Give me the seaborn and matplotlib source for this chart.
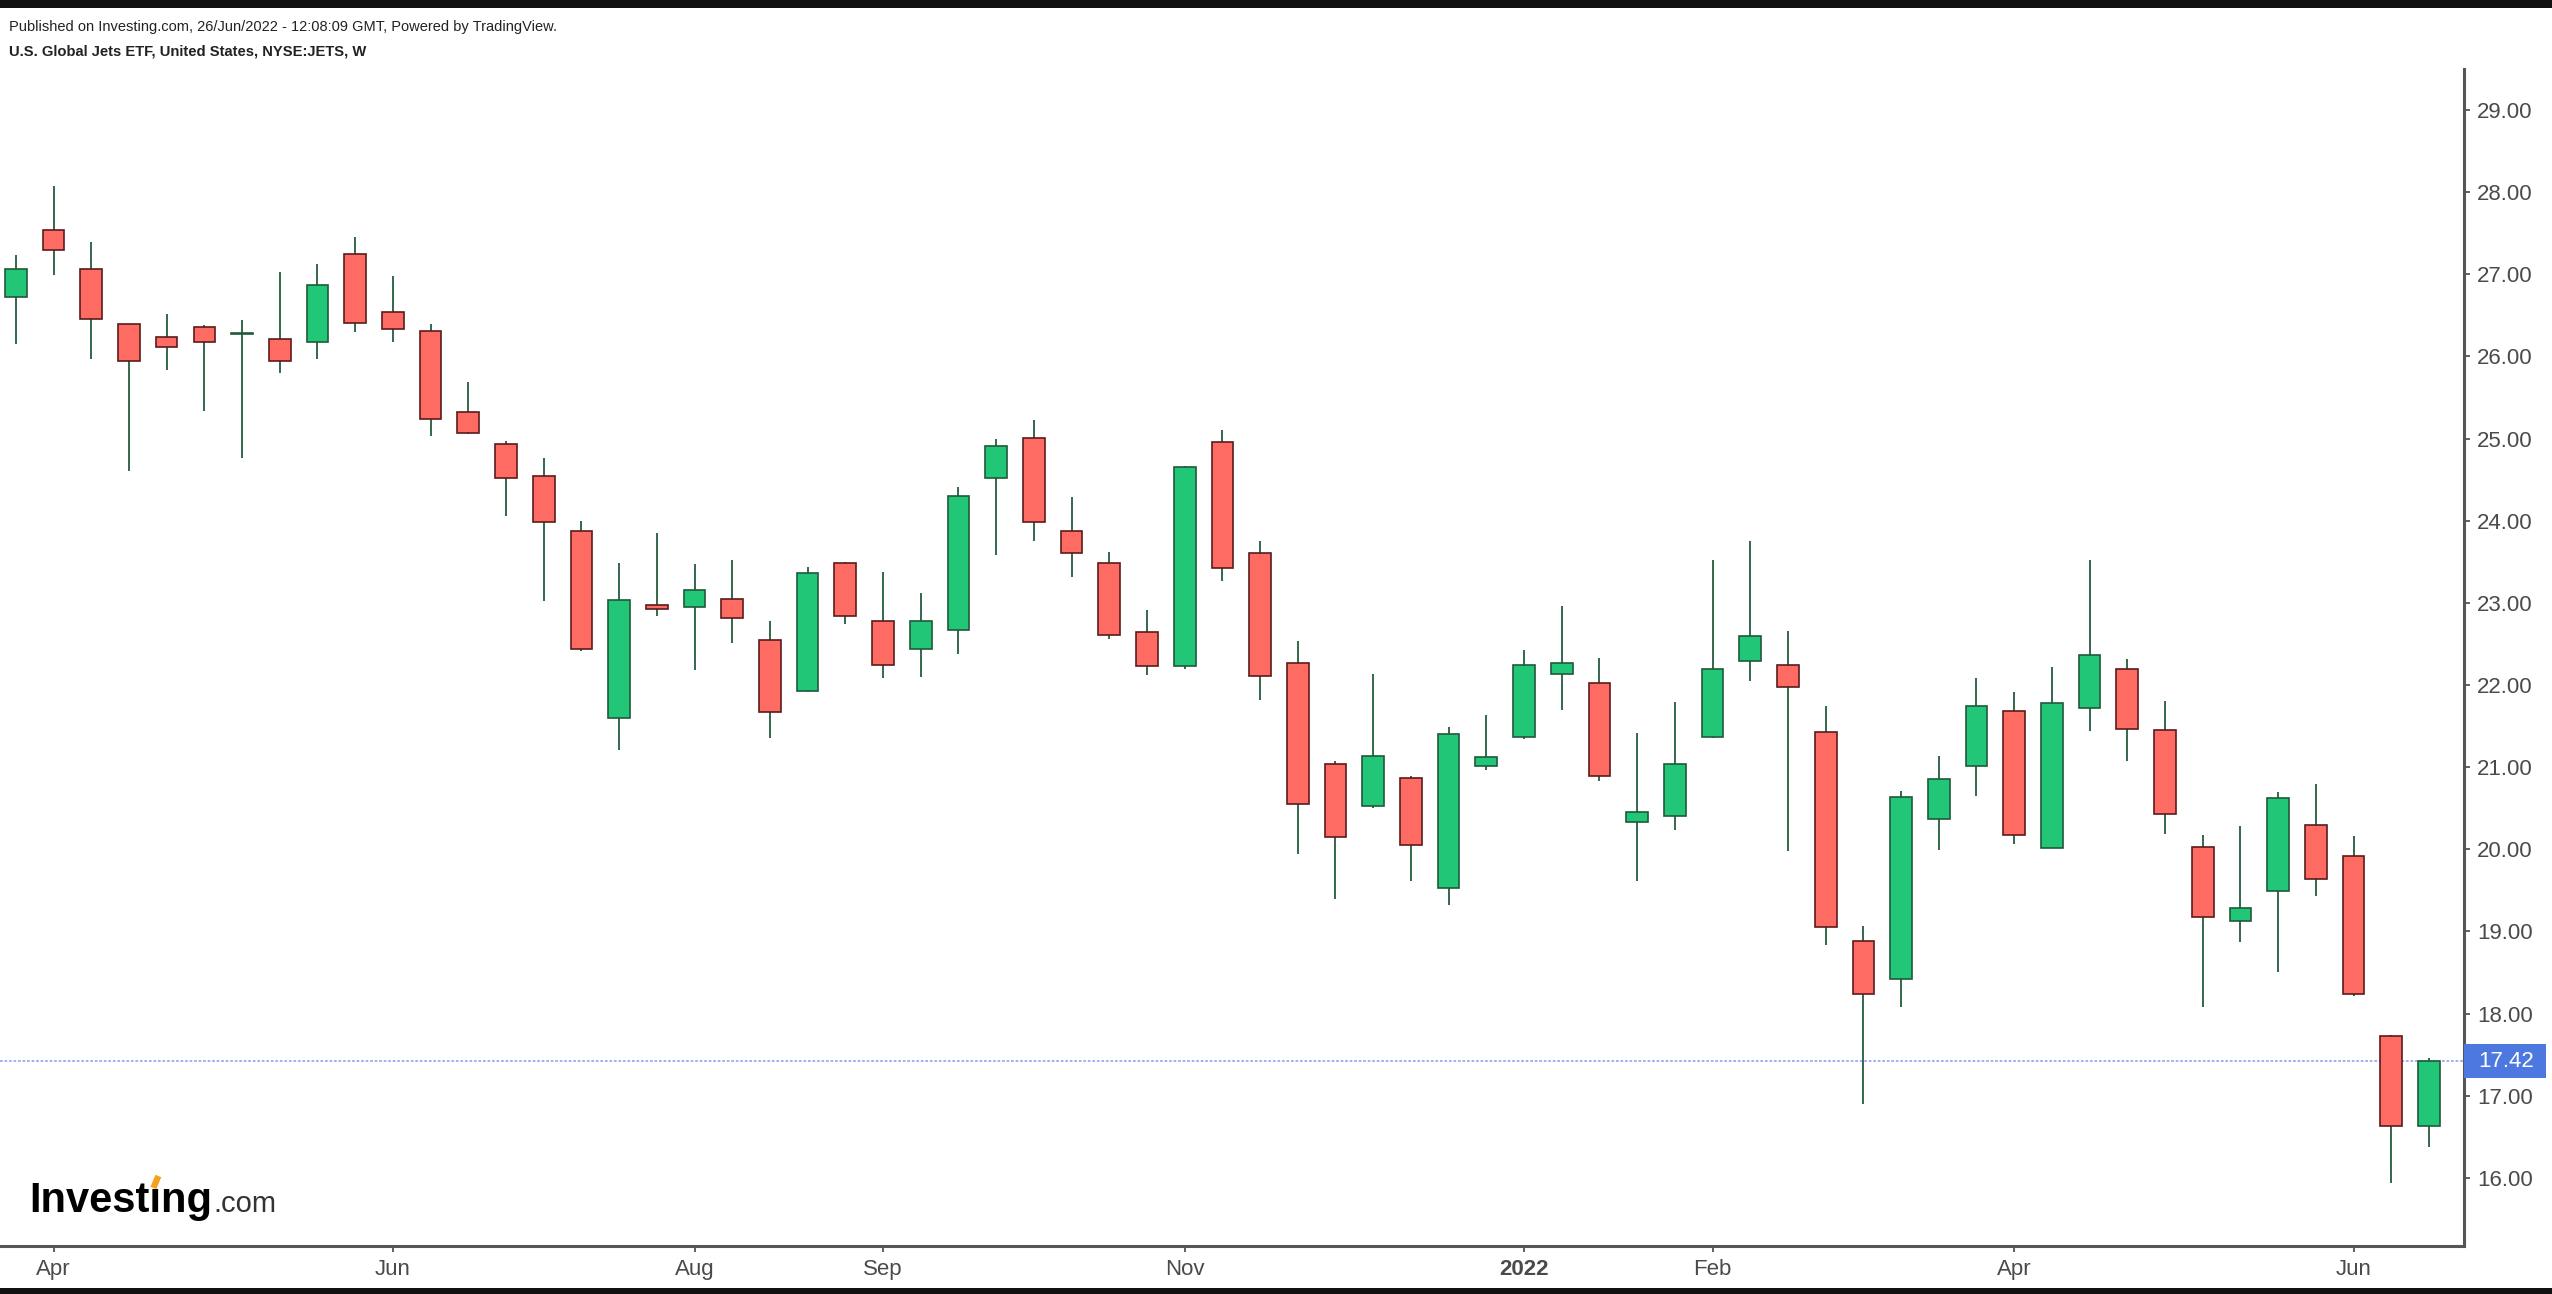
import pandas as pd
import matplotlib
matplotlib.use("Agg")
import matplotlib.pyplot as plt
import seaborn as sns
from matplotlib.patches import Rectangle
from matplotlib.lines import Line2D
from matplotlib.transforms import blended_transform_factory

# weekly JETS candles (Mar 29 2021 .. Jun 20 2022)
weeks = pd.date_range("2021-03-29", periods=65, freq="W-MON")
opens = [26.72, 27.54, 27.07, 26.39, 26.24, 26.36, 26.27, 26.21, 26.18, 27.25,
         26.54, 26.31, 25.32, 24.94, 24.55, 23.87, 21.60, 22.98, 22.95, 23.05,
         22.55, 21.93, 23.49, 22.78, 22.44, 22.67, 24.52, 25.01, 23.87, 23.49,
         22.65, 22.23, 24.96, 23.61, 22.27, 21.04, 20.53, 20.87, 19.53, 21.01,
         21.37, 22.14, 22.03, 20.33, 20.41, 21.37, 22.29, 22.24, 21.43, 18.88,
         18.42, 20.37, 21.02, 21.68, 20.02, 21.72, 22.19, 21.45, 20.03, 19.13,
         19.49, 20.30, 19.92, 17.73, 16.63]
highs = [27.24, 28.08, 27.39, 26.40, 26.52, 26.38, 26.44, 27.03, 27.13, 27.46,
         26.98, 26.40, 25.69, 24.97, 24.77, 24.00, 23.49, 23.85, 23.47, 23.52,
         22.78, 23.44, 23.50, 23.37, 23.12, 24.41, 25.00, 25.23, 24.29, 23.62,
         22.91, 24.67, 25.10, 23.75, 22.53, 21.08, 22.14, 20.89, 21.49, 21.64,
         22.43, 22.96, 22.33, 21.41, 21.79, 23.52, 23.75, 22.66, 21.74, 19.06,
         20.71, 21.13, 22.09, 21.92, 22.22, 23.52, 22.32, 21.81, 20.18, 20.28,
         20.70, 20.80, 20.16, 17.74, 17.46]
lows = [26.15, 26.99, 25.97, 24.60, 25.84, 25.34, 24.77, 25.80, 25.97, 26.30,
        26.18, 25.03, 25.06, 24.06, 23.02, 22.41, 21.21, 22.84, 22.18, 22.51,
        21.36, 21.92, 22.74, 22.08, 22.10, 22.38, 23.58, 23.75, 23.32, 22.56,
        22.12, 22.20, 23.27, 21.82, 19.94, 19.40, 20.50, 19.61, 19.32, 20.96,
        21.34, 21.69, 20.83, 19.61, 20.24, 21.36, 22.05, 19.98, 18.84, 16.90,
        18.08, 19.99, 20.65, 20.07, 20.01, 21.44, 21.08, 20.19, 18.08, 18.87,
        18.51, 19.43, 18.21, 15.94, 16.37]
closes = [27.07, 27.30, 26.46, 25.95, 26.11, 26.18, 26.29, 25.95, 26.87, 26.41,
          26.33, 25.24, 25.07, 24.52, 23.99, 22.44, 23.03, 22.92, 23.16, 22.82,
          21.67, 23.36, 22.84, 22.24, 22.78, 24.30, 24.91, 23.99, 23.61, 22.61,
          22.23, 24.66, 23.43, 22.11, 20.55, 20.15, 21.14, 20.05, 21.40, 21.12,
          22.24, 22.27, 20.89, 20.46, 21.04, 22.19, 22.60, 21.98, 19.05, 18.24,
          20.64, 20.86, 21.75, 20.17, 21.78, 22.37, 21.47, 20.43, 19.18, 19.29,
          20.63, 19.64, 18.24, 16.63, 17.42]
last_price = 17.42

tick_months = ["2021-04", "2021-06", "2021-08", "2021-09", "2021-11",
               "2022-01", "2022-02", "2022-04", "2022-06"]
tick_labels = ["Apr", "Jun", "Aug", "Sep", "Nov", "2022", "Feb", "Apr", "Jun"]
price_ticks = list(range(16, 30))

df = pd.DataFrame({"week": weeks, "open": opens, "high": highs,
                   "low": lows, "close": closes})
df["idx"] = range(len(df))
df["up"] = df["close"] >= df["open"]
df["bottom"] = df[["open", "close"]].min(axis=1)
df["body"] = (df["close"] - df["open"]).abs().clip(lower=0.02)

# first weekly bar of each labelled month
month_of = df["week"].dt.strftime("%Y-%m")
tick_pos = [df.loc[month_of == m, "idx"].iloc[0] for m in tick_months]

sns.set_theme(style="white")
plt.rcParams["font.family"] = ["Liberation Sans", "DejaVu Sans"]

W, H = 2552, 1294
fig = plt.figure(figsize=(W / 100, H / 100), dpi=100)
fig.patch.set_facecolor("white")
ax = fig.add_axes([0, (H - 1246) / H, 2464 / W, (1246 - 69) / H])

green, red = "#21c776", "#fe6b63"
green_edge, red_edge = "#1f5a3b", "#5a1b1b"
wick = "#235c3d"

ax.vlines(df["idx"], df["low"], df["high"], color=wick, lw=1.3, zorder=1)
up = df[df["up"]]
dn = df[~df["up"]]
ax.bar(up["idx"], up["body"], bottom=up["bottom"], width=0.575, color=green,
       edgecolor=green_edge, linewidth=1.2, zorder=2)
ax.bar(dn["idx"], dn["body"], bottom=dn["bottom"], width=0.575, color=red,
       edgecolor=red_edge, linewidth=1.2, zorder=2)

ax.axhline(last_price, color="#9aaaf0", lw=1.3, ls=(0, (1.5, 1)), zorder=0)

ax.set_xlim(-0.42, 64.93)
ax.set_ylim(15.17, 29.5)

for s in ["top", "left"]:
    ax.spines[s].set_visible(False)
for s in ["bottom", "right"]:
    ax.spines[s].set_color("#555555")
    ax.spines[s].set_linewidth(2.2)

ax.yaxis.tick_right()
ax.set_yticks(price_ticks)
ax.set_yticklabels([f"{p:.2f}" for p in price_ticks])
ax.set_xticks(tick_pos)
ax.set_xticklabels(tick_labels)
ax.tick_params(axis="both", colors="#555555", labelcolor="#4a4a4a",
               labelsize=16, length=4.5, width=1.3)
ax.tick_params(axis="y", pad=5, left=False, right=True)
ax.tick_params(axis="x", pad=5, bottom=True)
for lbl in ax.get_xticklabels():
    if lbl.get_text() == "2022":
        lbl.set_fontweight("bold")
ax.grid(False)

# last price tag on the price axis
tr = blended_transform_factory(ax.transAxes, ax.transData)
ax.add_patch(Rectangle((1.0, last_price - 0.207), 82 / 2464, 0.414,
                       transform=tr, facecolor="#4d78df", edgecolor="none",
                       clip_on=False, zorder=5))
ax.text(2478 / 2464, last_price, f"{last_price:.2f}", transform=tr,
        color="white", fontsize=16, va="center", ha="left", zorder=6)

# header
fig.text(9 / W, 1 - 27 / H,
         "Published on Investing.com, 26/Jun/2022 - 12:08:09 GMT, Powered by TradingView.",
         fontsize=10.5, color="#222222", va="center", ha="left")
fig.text(9 / W, 1 - 52 / H, "U.S. Global Jets ETF, United States, NYSE:JETS, W",
         fontsize=10.6, weight="bold", color="#222222", va="center", ha="left")

# black frame bars
fig.add_artist(Rectangle((0, 1 - 8 / H), 1, 8 / H, transform=fig.transFigure,
                         facecolor="#111111", edgecolor="none"))
fig.add_artist(Rectangle((0, 0), 1, 6 / H, transform=fig.transFigure,
                         facecolor="#111111", edgecolor="none"))

# logo
base_y = (H - 1212) / H
logo = fig.text(29 / W, base_y, "Investıng", fontsize=30, weight="bold",
                color="black", va="baseline", ha="left")
fig.canvas.draw()
rend = fig.canvas.get_renderer()
ext = logo.get_window_extent(rend)
probe = fig.text(29 / W, base_y, "Invest", fontsize=30, weight="bold",
                 va="baseline", ha="left")
pe = probe.get_window_extent(rend)
probe.remove()
fig.text(ext.x1 / W + 1 / W, base_y, ".com", fontsize=21, color="#333333",
         va="baseline", ha="left")
ix = pe.x1 + 6
fig.add_artist(Line2D([(ix - 2) / W, (ix + 3) / W],
                      [(H - 1188) / H, (H - 1176) / H],
                      transform=fig.transFigure, color="#f4a11d", lw=4.5,
                      solid_capstyle="butt"))

fig.savefig("out.png", dpi=100)
